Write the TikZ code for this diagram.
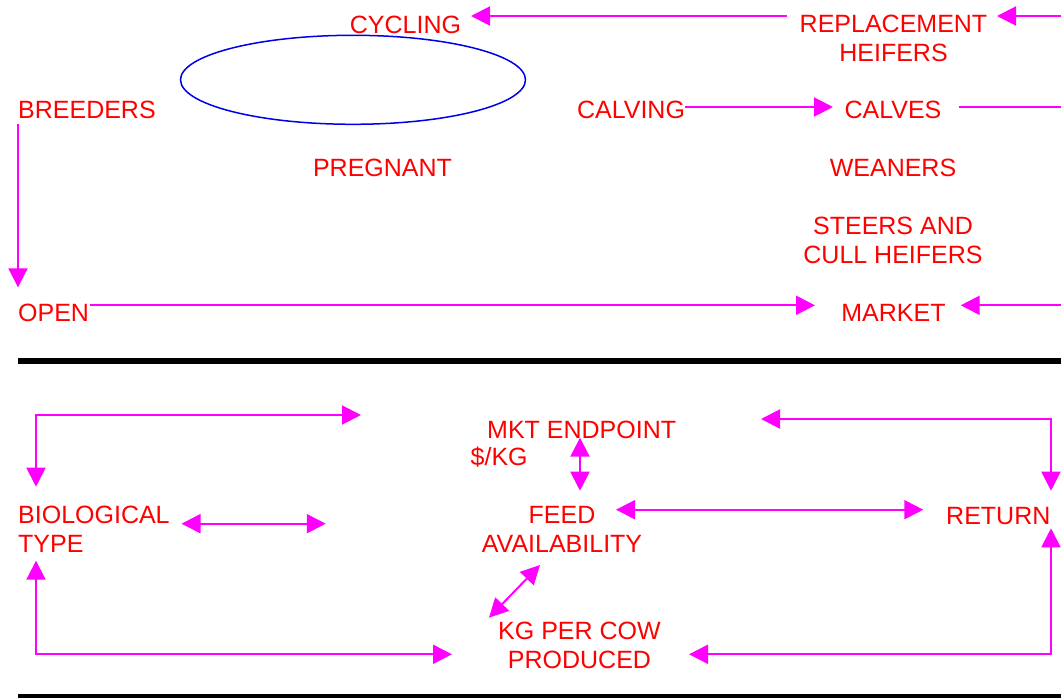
\documentclass[tikz,border=0pt]{standalone}
\usepackage{fontspec}
\setmainfont{Liberation Sans}
\usetikzlibrary{arrows.meta,shapes.geometric}
\definecolor{mag}{RGB}{255,0,255}
\definecolor{lbl}{RGB}{255,0,0}
\definecolor{ellc}{RGB}{0,0,230}
\begin{document}
\begin{tikzpicture}[x=1pt,y=-1pt,
  lab/.style={text=lbl,font=\fontsize{25}{28.7}\selectfont,inner sep=0pt,align=center},
  conn/.style={draw=mag,line width=2pt},
  onehead/.style={conn,-{Triangle[length=19pt,width=19pt]}},
  twohead/.style={conn,{Triangle[length=19pt,width=19pt]}-{Triangle[length=19pt,width=19pt]}},
  rulebar/.style={draw=black,line width=6pt}]
\useasboundingbox (0,0) rectangle (1061,698);

% ---------- top part ----------
\node[lab,anchor=base] (cycling) at (405.5,33.5) {CYCLING};
\node[lab] (repl) at (893.5,38.5) {REPLACEMENT\\HEIFERS};
\node[draw=ellc,line width=1.5pt,ellipse,inner sep=0pt,minimum width=345pt,minimum height=89pt] (preg-loop) at (353,79.8) {};
\node[lab,anchor=base west] (breeders) at (18,119) {BREEDERS};
\node[lab,anchor=base] (pregnant) at (382.5,177) {PREGNANT};
\node[lab,anchor=base] (calving) at (631,119) {CALVING};
\node[lab,anchor=base] (calves) at (893,119) {CALVES};
\node[lab,anchor=base] (weaners) at (893,177) {WEANERS};
\node[lab] (steers) at (893,240.5) {STEERS AND\\CULL HEIFERS};
\node[lab,anchor=base west] (open) at (18,321) {OPEN};
\node[lab,anchor=base] (market) at (893.5,321) {MARKET};

\coordinate (replL) at (787,16);
\coordinate (cycR) at (471,16);
\coordinate (edgeA) at (1061,16);
\coordinate (replR) at (997,16);
\coordinate (calvesL) at (833,107);
\coordinate (calvesR) at (959,107);
\coordinate (edgeB) at (1061,107);
\coordinate (breedB) at (18,124.3);
\coordinate (openT) at (18,287.3);
\coordinate (marketL) at (815,305.3);
\coordinate (marketR) at (960.7,305.3);
\coordinate (edgeC) at (1061,305.3);

\draw[onehead] (replL) -- (cycR);
\draw[onehead] (edgeA) -- (replR);
\draw[onehead] (calving.east |- calvesL) -- (calvesL);
\draw[conn] (calvesR) -- (edgeB);
\draw[onehead] (breedB) -- (openT);
\draw[onehead] ([xshift=1pt]open.east |- marketL) -- (marketL);
\draw[onehead] (edgeC) -- (marketR);

\draw[rulebar] (18,361) -- (1061,361);
\draw[draw=black,line width=5pt] (18,696) -- (1061,696);

% ---------- bottom part ----------
\node[lab,align=left,anchor=west] (bio) at (18,529.4) {BIOLOGICAL\\TYPE};
\node[lab,anchor=base west] (mkt) at (487,438.3) {MKT ENDPOINT};
\node[lab,anchor=base west] (perkg) at (470.5,465.7) {\$/KG};
\node[lab] (feed) at (562,529.4) {FEED\\AVAILABILITY};
\node[lab,anchor=base west] (ret) at (946,524.3) {RETURN};
\node[lab] (kgcow) at (579.5,645.4) {KG PER COW\\PRODUCED};

\coordinate (tlR) at (361,415);
\coordinate (tlC) at (36,415);
\coordinate (bioT) at (36,486.7);
\coordinate (bioB) at (36,560.7);
\coordinate (blC) at (36,654.3);
\coordinate (kgL) at (452,654.3);
\coordinate (bioR) at (181.5,523.7);
\coordinate (midL) at (325.8,523.7);
\coordinate (mktB) at (580,437.7);
\coordinate (feedT) at (580,490.7);
\coordinate (feedR) at (616,509.7);
\coordinate (retL) at (923.3,509.7);
\coordinate (trL) at (761,419);
\coordinate (trC) at (1051,419);
\coordinate (retT) at (1051,490.7);
\coordinate (retB) at (1051,528.3);
\coordinate (brC) at (1051,654.3);
\coordinate (kgR) at (689,654.3);
\coordinate (feedB) at (540,565);
\coordinate (kgT) at (489,617.7);

\draw[twohead] (tlR) -- (tlC) -- (bioT);
\draw[twohead] (bioB) -- (blC) -- (kgL);
\draw[twohead] (bioR) -- (midL);
\draw[twohead] (mktB) -- (feedT);
\draw[twohead] (feedR) -- (retL);
\draw[twohead] (trL) -- (trC) -- (retT);
\draw[twohead] (retB) -- (brC) -- (kgR);
\draw[twohead] (feedB) -- (kgT);
\end{tikzpicture}
\end{document}
